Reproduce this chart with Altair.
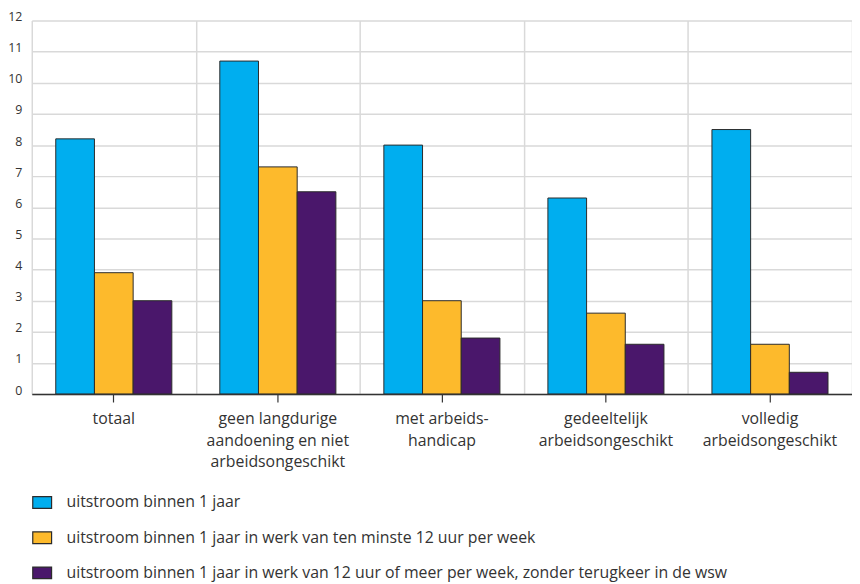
import altair as alt
import pandas as pd

categories = [
    "totaal",
    "geen langdurige\naandoening en niet\narbeidsongeschikt",
    "met arbeids-\nhandicap",
    "gedeeltelijk\narbeidsongeschikt",
    "volledig\narbeidsongeschikt",
]
series = [
    "uitstroom binnen 1 jaar",
    "uitstroom binnen 1 jaar in werk van ten minste 12 uur per week",
    "uitstroom binnen 1 jaar in werk van 12 uur of meer per week, zonder terugkeer in de wsw",
]
values_1 = [8.2, 10.7, 8.0, 6.3, 8.5]
values_2 = [3.9, 7.3, 3.0, 2.6, 1.6]
values_3 = [3.0, 6.5, 1.8, 1.6, 0.7]
colors = ["#00AEEF", "#FDBA2C", "#4A176B"]
y_ticks = list(range(0, 13))

rows = []
for s, vals in zip(series, [values_1, values_2, values_3]):
    for c, v in zip(categories, vals):
        rows.append({"cat": c, "series": s, "value": v})
df = pd.DataFrame(rows)

FONT = "Open Sans"
TXT = "#333333"
GRID = "#d9d9d9"

x_scale = alt.Scale(domain=categories, paddingInner=0, paddingOuter=0)

bars = alt.Chart(df).mark_bar(stroke="#2b2b2b", strokeWidth=1).encode(
    x=alt.X(
        "cat:N",
        scale=x_scale,
        sort=categories,
        axis=alt.Axis(
            orient="bottom",
            tickBand="extent",
            grid=True,
            gridColor=GRID,
            gridWidth=1.5,
            labels=False,
            ticks=False,
            domain=False,
            title=None,
        ),
    ),
    xOffset=alt.XOffset(
        "series:N",
        sort=series,
        scale=alt.Scale(domain=series, paddingInner=0, paddingOuter=0.62),
    ),
    y=alt.Y(
        "value:Q",
        scale=alt.Scale(domain=[0, 12], nice=False),
        axis=alt.Axis(
            values=y_ticks,
            grid=True,
            gridColor=GRID,
            gridWidth=1.5,
            domain=False,
            ticks=False,
            labelFont=FONT,
            labelFontSize=12.5,
            labelColor=TXT,
            labelPadding=10,
            labelBaseline="alphabetic",
            labelOffset=0,
            title=None,
        ),
    ),
    color=alt.Color(
        "series:N",
        sort=series,
        scale=alt.Scale(domain=series, range=colors),
        legend=alt.Legend(
            orient="none",
            legendX=0,
            legendY=476,
            direction="vertical",
            title=None,
            symbolType="M-1,-0.62H1V0.62H-1Z",
            symbolSize=361,
            symbolStrokeColor="#2b2b2b",
            symbolStrokeWidth=1.2,
            labelFont=FONT,
            labelFontSize=16,
            labelColor=TXT,
            labelOffset=14,
            labelLimit=0,
            rowPadding=16.5,
        ),
    ),
)

labels_layer = alt.Chart(pd.DataFrame({"cat": categories})).mark_point(opacity=0).encode(
    x=alt.X(
        "cat:N",
        scale=x_scale,
        sort=categories,
        axis=alt.Axis(
            orient="bottom",
            grid=False,
            ticks=True,
            tickColor=TXT,
            tickSize=8,
            tickWidth=1.2,
            domain=True,
            domainColor=TXT,
            domainWidth=1.5,
            labelExpr="split(datum.label, '\\n')",
            labelFont=FONT,
            labelFontSize=16,
            labelColor=TXT,
            labelLineHeight=21.5,
            labelPadding=9,
            labelAngle=0,
            labelLimit=0,
            zindex=1,
            title=None,
        ),
    ),
)

chart = (
    alt.layer(bars, labels_layer)
    .resolve_axis(x="independent")
    .properties(
        width=828,
        height=377,
        autosize=alt.AutoSizeParams(type="none"),
        padding={"left": 24, "top": 10, "right": 0, "bottom": 189},
    )
    .configure_view(stroke=None)
)

chart.save("out.html", embed_options={"renderer": "svg", "actions": False})
